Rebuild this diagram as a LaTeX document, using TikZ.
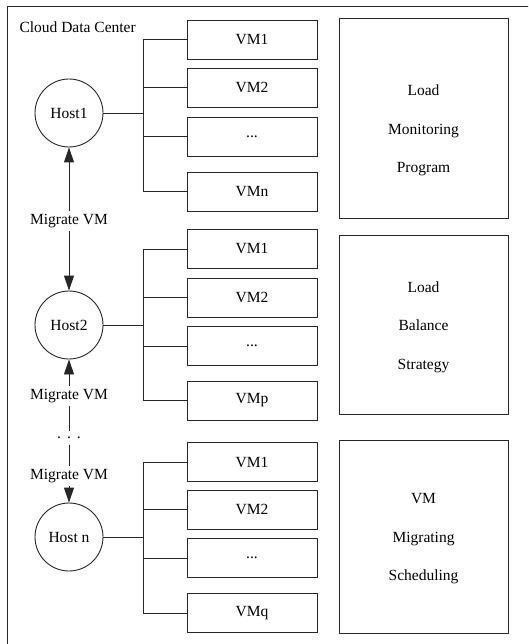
\documentclass[tikz,border=0pt]{standalone}
\usepackage{fontspec}
\setmainfont{Liberation Serif}
\usetikzlibrary{arrows.meta}
\begin{document}
\begin{tikzpicture}[x=1pt,y=-1pt,
  every node/.style={font=\fontsize{15.5}{18}\selectfont},
  ln/.style={line width=0.9pt, draw=black!85},
  vmbox/.style={draw, ln, minimum width=130pt, minimum height=39pt, inner sep=0pt},
  host/.style={circle, draw, ln, minimum size=68pt, inner sep=0pt},
  bigbox/.style={draw, ln, minimum width=169pt, inner sep=0pt},
  mig/.style={anchor=base, inner sep=3pt},
  dotsnode/.style={minimum height=13pt, inner sep=0pt},
  arr/.style={ln, -{Triangle[length=15pt,width=10pt]}},
  bigtext/.style={align=center, font=\fontsize{15.5}{38.5}\selectfont}
]
\useasboundingbox (0,0) rectangle (528,644);
\clip (0,0) rectangle (528,644);
\draw[ln] (7.5,6.5) rectangle (540,660);

\node[anchor=base west] (cdc) at (16,33) {Cloud Data Center};

% hosts
\node[host] (h1) at (69,113) {Host1};
\node[host] (h2) at (69,325) {Host2};
\node[host] (hn) at (69,537) {Host n};

% junctions
\coordinate (j1) at (143,113);
\coordinate (j2) at (143,325);
\coordinate (j3) at (143,537);

% VM group 1
\node[vmbox] (a1) at (252,39.5) {VM1};
\node[vmbox] (a2) at (252,87.5) {VM2};
\node[vmbox] (a3) at (252,136.5) {...};
\node[vmbox] (a4) at (252,191.5) {VMn};
% VM group 2
\node[vmbox] (b1) at (252,249) {VM1};
\node[vmbox] (b2) at (252,297.5) {VM2};
\node[vmbox] (b3) at (252,346) {...};
\node[vmbox] (b4) at (252,400.5) {VMp};
% VM group 3
\node[vmbox] (c1) at (252,462) {VM1};
\node[vmbox] (c2) at (252,509.5) {VM2};
\node[vmbox] (c3) at (252,558) {...};
\node[vmbox] (c4) at (252,613) {VMq};

\draw[ln] (h1) -- (j1);
\draw[ln] (h2) -- (j2);
\draw[ln] (hn) -- (j3);
\foreach \v in {a1,a2,a3,a4} \draw[ln] (\v.west) -| (j1);
\foreach \v in {b1,b2,b3,b4} \draw[ln] (\v.west) -| (j2);
\foreach \v in {c1,c2,c3,c4} \draw[ln] (\v.west) -| (j3);

% migrate labels
\node[mig] (m1) at (69,224) {Migrate VM};
\node[mig] (m2) at (69,399) {Migrate VM};
\node[dotsnode] (dd) at (69,438) {.\hspace{6pt}.\hspace{6pt}.};
\node[mig] (m3) at (69,479) {Migrate VM};

\draw[arr] (m1) -- (h1);
\draw[arr] (m1) -- (h2);
\draw[arr] (m2) -- (h2);
\draw[ln] (m2) -- (dd);
\draw[ln] (dd) -- (m3);
\draw[arr] (m3) -- (hn);

% right boxes
\node[bigbox, minimum height=200pt] (r1) at (423.5,118) {};
\node[bigtext] (t1) at (423.5,130.5) {Load\\Monitoring\\Program};
\node[bigbox, minimum height=179pt] (r2) at (423.5,324.5) {};
\node[bigtext] (t2) at (423.5,327) {Load\\Balance\\Strategy};
\node[bigbox, minimum height=193pt] (r3) at (423.5,536.5) {};
\node[bigtext] (t3) at (423.5,539) {VM\\Migrating\\Scheduling};
\end{tikzpicture}
\end{document}
